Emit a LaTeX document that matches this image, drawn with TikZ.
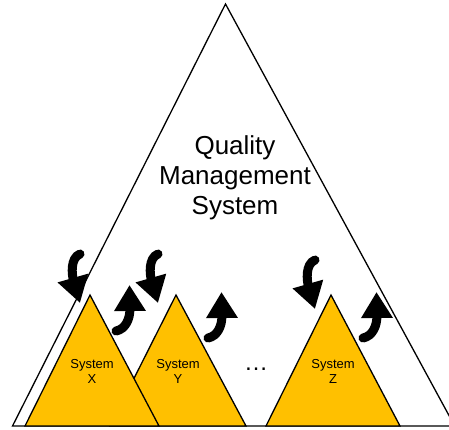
\documentclass[tikz,border=0pt]{standalone}
\usepackage{fontspec}
\setmainfont{Liberation Sans}
\usetikzlibrary{arrows.meta}
\definecolor{sysorange}{HTML}{FFC000}
\tikzset{
  frame/.style={draw=black, line width=1.3pt, line join=miter},
  subsys/.style={frame, fill=sysorange},
  flow/.style={line width=9pt, line cap=round, -{Triangle[width=30pt,length=26pt]}},
  systext/.style={align=center, inner sep=0pt, font=\fontsize{13}{15}\selectfont},
  inflow/.pic={\draw[flow] (0,0) .. controls (-10,4) and (-8,21) .. (0,49);},
  outflow/.pic={\draw[flow] (0,0) .. controls (10,-2) and (14,-13) .. (13.5,-46);}
}
\begin{document}
\begin{tikzpicture}[x=1pt,y=-1pt]
\path[use as bounding box] (0,0) rectangle (449,429);
% the overall quality management system
\begin{scope}
  \clip (0,0) rectangle (449,429);
  \draw[frame, fill=white] (225.5,4) -- (454.7,426) -- (12.5,426) -- cycle;
\end{scope}
% the sub-systems, X in front of Y
\draw[subsys] (266,426) -- (331,295) -- (400,426) -- cycle;
\draw[subsys] (110,426) -- (176,295) -- (246,426) -- cycle;
\draw[subsys] (25,426) -- (90,295) -- (159,426) -- cycle;
% labels
\node[align=center, inner sep=0pt, font=\fontsize{26}{30}\selectfont] (qms) at (235,178) {Quality\\Management\\System};
\node[systext] (sx) at (92,371) {System\\X};
\node[systext] (sy) at (178,371) {System\\Y};
\node[systext] (sz) at (333,371) {System\\Z};
\node[anchor=base, inner sep=0pt, font=\fontsize{24}{24}\selectfont] (dots) at (256,370) {\textellipsis};
% exchange between the system and its parts
\pic (inx) at (80,254) {inflow};
\pic (iny) at (158,254) {inflow};
\pic (inz) at (315,260) {inflow};
\pic (outx) at (116,331) {outflow};
\pic (outy) at (208,338) {outflow};
\pic (outz) at (363,338) {outflow};
\end{tikzpicture}
\end{document}
